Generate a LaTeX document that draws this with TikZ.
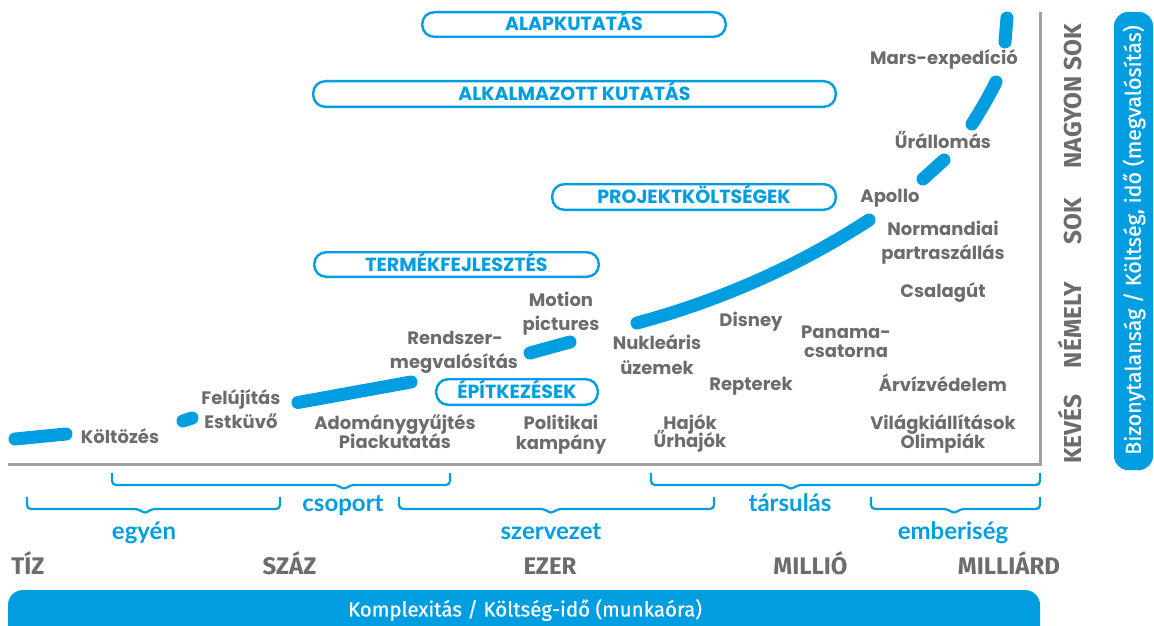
\documentclass[tikz,border=0pt]{standalone}
\usepackage{fontspec}
\setmainfont{Poppins}
\newfontfamily\latof{Lato}
\newfontfamily\firaf{Fira Sans}
\newfontfamily\firamed[FakeBold=0.6]{Fira Sans}
\definecolor{skyblue}{RGB}{0,158,225}
\definecolor{txtgray}{RGB}{108,108,108}
\definecolor{axisgray}{RGB}{160,160,160}

% downward group bracket: x-left, x-right, y-top, y-bottom, x-tip
\newcommand\grpbrace[5]{%
  \draw[bracket] (#1,#3) -- (#1,#4) -- (#5-6,#4) -- (#5,#4+5) -- (#5+6,#4) -- (#2,#4) -- (#2,#3);}

\begin{document}
\begin{tikzpicture}[x=1pt,y=-1pt,
  lbl/.style={font=\bfseries\fontsize{18}{21}\selectfont, text=txtgray, inner sep=0pt,
    text height=12.5pt, text depth=0pt},
  grp/.style={font=\latof\bfseries\fontsize{24}{27}\selectfont, text=skyblue, inner sep=0pt,
    anchor=base},
  scalelbl/.style={font=\firaf\bfseries\fontsize{24}{26}\selectfont, text=txtgray, inner sep=0pt,
    text height=16pt, text depth=0pt},
  level/.style={font=\firaf\bfseries\fontsize{24.5}{27}\selectfont, text=txtgray, inner sep=0pt,
    rotate=90, text height=16.5pt, text depth=0pt},
  stage/.style={draw=skyblue, line width=2.4pt, rounded corners=12pt, fill=white, text=skyblue,
    font=\bfseries\fontsize{19}{22}\selectfont, inner sep=0pt, text height=13pt, text depth=0pt},
  barlbl/.style={font=\firamed\fontsize{20.5}{24}\selectfont, text=white, inner sep=0pt},
  trend/.style={skyblue, line width=13pt, line cap=round},
  bracket/.style={skyblue, line width=2.2pt, rounded corners=4pt},
  axis/.style={axisgray, line width=3pt},
]
\useasboundingbox (0,0) rectangle (1154,626);

% axes
\coordinate (origin) at (1040,464);
\coordinate (xend) at (8,464);
\coordinate (ytop) at (1040,12);
\draw[axis] (xend) -- (origin) -- (ytop);

% research stages
\node[stage, minimum width=303.6pt, minimum height=24.6pt] (alap) at (574,24.5) {ALAPKUTATÁS};
\node[stage, minimum width=522.6pt, minimum height=25.6pt] (alkalm) at (574.5,94) {ALKALMAZOTT KUTATÁS};
\node[stage, minimum width=283.6pt, minimum height=25.6pt] (projekt) at (694,197) {PROJEKTKÖLTSÉGEK};
\node[stage, minimum width=284.6pt, minimum height=24.6pt] (termek) at (456.5,264.5) {TERMÉKFEJLESZTÉS};
\node[stage, minimum width=161.6pt, minimum height=25.6pt] (epit) at (517,392) {ÉPÍTKEZÉSEK};

% growth curve, drawn in dashes
\draw[trend] (15,439) -- (66,434);
\draw[trend] (183,421) -- (192,418);
\draw[trend] (298,402.5) -- (411,382);
\draw[trend] (530,353) -- (570,342);
\draw[trend] (637,323) .. controls (722,300) and (800,265) .. (869,220);
\draw[trend] (923,179) -- (944,160);
\draw[trend] (972,124) .. controls (981,110) and (989,96) .. (996,82);
\draw[trend] (1005,42) -- (1007,18);

% projects
\node[lbl] (kolt) at (120,437) {Költözés};
\node[lbl] (feluj) at (241,398) {Felújítás};
\node[lbl] (eskuvo) at (241,422) {Estküvő};
\node[lbl] (adom) at (395,423) {Adománygyűjtés};
\node[lbl] (piac) at (395,442.5) {Piackutatás};
\node[lbl] (rendsz) at (455,338.5) {Rendszer-};
\node[lbl] (megval) at (454,362) {megvalósítás};
\node[lbl] (motion) at (561,300) {Motion};
\node[lbl] (pict) at (561,324) {pictures};
\node[lbl] (polit) at (561,423) {Politikai};
\node[lbl] (kamp) at (561,443) {kampány};
\node[lbl] (nukl) at (657,343.5) {Nukleáris};
\node[lbl] (uzem) at (657,368) {üzemek};
\node[lbl] (disney) at (751,320) {Disney};
\node[lbl] (panama) at (846,332) {Panama-};
\node[lbl] (csat) at (846,351.5) {csatorna};
\node[lbl] (repter) at (751,384.5) {Repterek};
\node[lbl] (csalag) at (943,291.5) {Csalagút};
\node[lbl] (arviz) at (943,385.5) {Árvízvédelem};
\node[lbl] (hajok) at (690,423) {Hajók};
\node[lbl] (urhaj) at (690,441.5) {Űrhajók};
\node[lbl] (vilag) at (943,423) {Világkiállítások};
\node[lbl] (olimp) at (943,442) {Olimpiák};
\node[lbl] (normand) at (943,229) {Normandiai};
\node[lbl] (partra) at (943,253.5) {partraszállás};
\node[lbl] (apollo) at (890,196.5) {Apollo};
\node[lbl] (uralom) at (943,142) {Űrállomás};
\node[lbl] (mars) at (944,58.5) {Mars-expedíció};

% group brackets
\grpbrace{27}{280}{497}{509}{145}
\grpbrace{112}{450}{473}{485}{344}
\grpbrace{399}{714}{497}{509}{551}
\grpbrace{651}{1040}{473}{485}{791}
\grpbrace{871}{1040}{497}{509}{954}
\node[grp] (egyen) at (144,539) {egyén};
\node[grp] (csoport) at (343,511) {csoport};
\node[grp] (szerv) at (551,539) {szervezet};
\node[grp] (tars) at (790,511) {társulás};
\node[grp] (ember) at (953,539) {emberiség};

% scale of the horizontal axis
\node[scalelbl] (tiz) at (28,566) {TÍZ};
\node[scalelbl] (szaz) at (289.5,566) {SZÁZ};
\node[scalelbl] (ezer) at (550,566) {EZER};
\node[scalelbl] (millio) at (810.5,566) {MILLIÓ};
\node[scalelbl] (milliard) at (1009,566) {MILLIÁRD};

% scale of the vertical axis
\node[level] (keves) at (1073.5,429) {KEVÉS};
\node[level] (nemely) at (1073.5,325) {NÉMELY};
\node[level] (sok) at (1073.5,221) {SOK};
\node[level] (nagyon) at (1073.5,96) {NAGYON SOK};

% axis title bars
\begin{scope}
  \clip (0,0) rectangle (1154,626);
  \fill[skyblue, rounded corners=15pt] (8,590) rectangle (1040,660);
\end{scope}
\node[barlbl] (xtitle) at (525,610) {Komplexitás / Költség-idő (munkaóra)};
\fill[skyblue, rounded corners=14pt] (1114,12) rectangle (1153,470);
\node[barlbl, font=\firamed\fontsize{21.5}{24}\selectfont, rotate=90] (ytitle) at (1134,240) {Bizonytalanság / Költség, idő (megvalósítás)};
\end{tikzpicture}
\end{document}
